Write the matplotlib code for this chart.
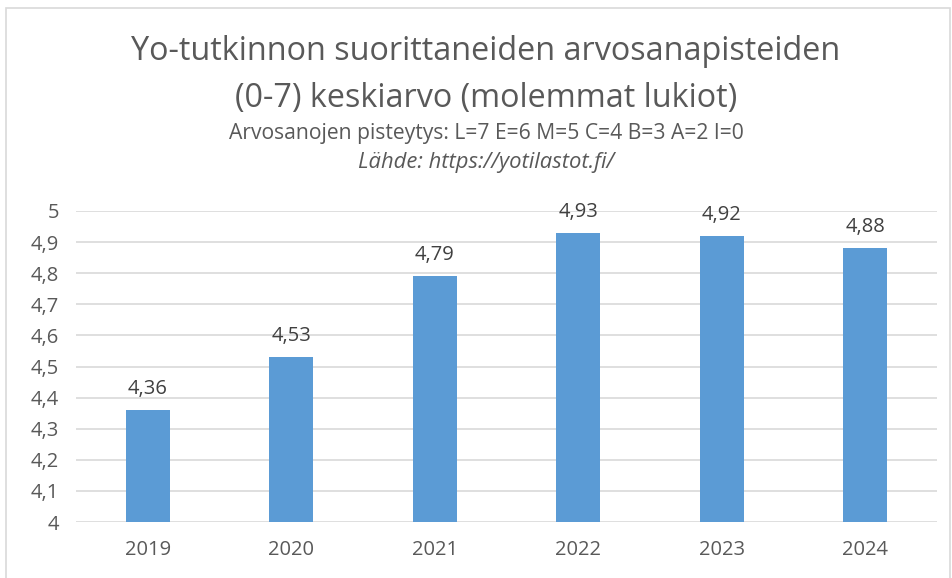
import matplotlib.pyplot as plt
from matplotlib.patches import Rectangle

years = ["2019", "2020", "2021", "2022", "2023", "2024"]
averages = [4.36, 4.53, 4.79, 4.93, 4.92, 4.88]
y_ticks = [4.0, 4.1, 4.2, 4.3, 4.4, 4.5, 4.6, 4.7, 4.8, 4.9, 5.0]

plt.rcParams['font.family'] = ['Open Sans', 'DejaVu Sans']
text_col = '#595959'

fig = plt.figure(figsize=(9.52, 5.78), dpi=100)
ax = fig.add_axes([76/952, 1 - 522/578, (937-76)/952, (522-211)/578])

x = range(len(years))
ax.bar(x, averages, width=0.31, color='#5B9BD5', zorder=3)
for i, v in enumerate(averages):
    ax.text(i, v + 0.035, f"{v:.2f}".replace('.', ','), ha='center', va='bottom',
            fontsize=14.5, color='#404040')

ax.set_ylim(4, 5)
ax.set_xlim(-0.5, len(years) - 0.5)
ax.set_yticks(y_ticks)
ax.set_yticklabels([f"{t:g}".replace('.', ',') for t in y_ticks])
ax.set_xticks(list(x))
ax.set_xticklabels(years)
ax.tick_params(axis='both', length=0, labelsize=14.5, labelcolor=text_col)
ax.tick_params(axis='x', pad=13)
ax.tick_params(axis='y', pad=12)
ax.grid(axis='y', color='#D9D9D9', linewidth=1.2, zorder=0)
for s in ax.spines.values():
    s.set_visible(False)

cx = 486 / 952
fig.text(cx, 1 - 52/578, "Yo-tutkinnon suorittaneiden arvosanapisteiden",
         ha='center', va='center', fontsize=23.3, color=text_col)
fig.text(cx, 1 - 99/578, "(0-7) keskiarvo (molemmat lukiot)",
         ha='center', va='center', fontsize=23.3, color=text_col)
fig.text(cx, 1 - 134/578, "Arvosanojen pisteytys: L=7 E=6 M=5 C=4 B=3 A=2 I=0",
         ha='center', va='center', fontsize=15.2, color=text_col)
fig.text(cx, 1 - 162/578, "Lähde: https://yotilastot.fi/",
         ha='center', va='center', fontsize=15.8, color=text_col, style='italic')

# chart border
fig.patches.append(Rectangle((6/952, -0.01), 944/952, 1 - 8/578 + 0.01,
                             transform=fig.transFigure, fill=False,
                             edgecolor='#D9D9D9', linewidth=1.2))

fig.savefig("out.png", dpi=100)
